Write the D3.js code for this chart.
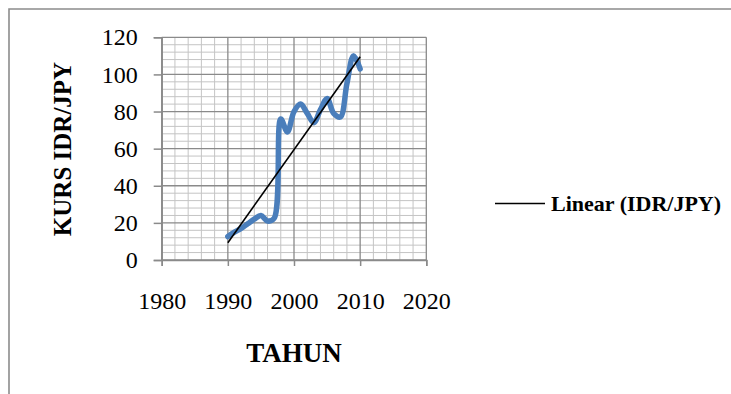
<!DOCTYPE html>
<html>
<head>
<meta charset="utf-8">
<script src="https://cdn.jsdelivr.net/npm/d3@7/dist/d3.min.js"></script>
<style>
  html, body { margin: 0; padding: 0; background: #fff; }
  svg { display: block; }
  text { font-family: "Liberation Serif", "Times New Roman", serif; fill: #000; }
</style>
</head>
<body>
<svg id="chart" width="731" height="394"></svg>
<script>
// IDR/JPY exchange rate by year
const years = [1990, 1991, 1992, 1993, 1994, 1995, 1996, 1997, 1998, 1999, 2000,
               2001, 2002, 2003, 2004, 2005, 2006, 2007, 2008, 2009, 2010];
const kurs  = [12.6, 15, 17, 19.5, 22, 24, 21, 22.5, 76, 69, 80,
               84, 79, 74, 81, 87, 79, 77, 95, 110, 103];

const xTicks = [1980, 1990, 2000, 2010, 2020];
const yTicks = [0, 20, 40, 60, 80, 100, 120];

const xTitle = "TAHUN";
const yTitle = "KURS IDR/JPY";
const legendLabel = "Linear (IDR/JPY)";

const svg = d3.select("#chart");

// outer chart frame (continues past the right and bottom edges)
svg.append("path")
  .attr("d", "M9,400 V9 H740")
  .attr("fill", "none")
  .attr("stroke", "#8c8c8c")
  .attr("stroke-width", 1.6);

const x = d3.scaleLinear().domain([1980, 2020]).range([161.7, 426.3]);
const y = d3.scaleLinear().domain([0, 120]).range([260, 37.3]);

const grid = svg.append("g");

// minor grid: every 2 years, every 4 units
const xMinor = d3.range(1980, 2020.01, 2).filter(v => (v - 1980) % 10 !== 0);
const yMinor = d3.range(0, 120.01, 4).filter(v => v % 20 !== 0);
grid.selectAll(".xminor").data(xMinor).join("line")
  .attr("x1", d => x(d)).attr("x2", d => x(d))
  .attr("y1", y(0)).attr("y2", y(120))
  .attr("stroke", "#c4c4c4").attr("stroke-width", 1);
grid.selectAll(".yminor").data(yMinor).join("line")
  .attr("x1", x(1980)).attr("x2", x(2020))
  .attr("y1", d => y(d)).attr("y2", d => y(d))
  .attr("stroke", "#c4c4c4").attr("stroke-width", 1);

// major grid
grid.selectAll(".xmajor").data(xTicks).join("line")
  .attr("x1", d => x(d)).attr("x2", d => x(d))
  .attr("y1", y(0)).attr("y2", y(120))
  .attr("stroke", "#8a8a8a").attr("stroke-width", 1.3);
grid.selectAll(".ymajor").data(yTicks).join("line")
  .attr("x1", x(1980)).attr("x2", x(2020))
  .attr("y1", d => y(d)).attr("y2", d => y(d))
  .attr("stroke", "#8a8a8a").attr("stroke-width", 1.3);

// axes
const yAxis = d3.axisLeft(y).tickValues(yTicks).tickSize(8).tickPadding(16).tickFormat(d3.format("d"));
const xAxis = d3.axisBottom(x).tickValues(xTicks).tickSize(6).tickPadding(14).tickFormat(d3.format("d"));

const gy = svg.append("g").attr("transform", `translate(${x(1980)},0)`).call(yAxis);
const gx = svg.append("g").attr("transform", `translate(0,${y(0)})`).call(xAxis);

[gx, gy].forEach(g => {
  g.attr("font-family", null).attr("font-size", null);
  g.select(".domain").attr("stroke", "#8a8a8a").attr("stroke-width", 1.5);
  g.selectAll(".tick line").attr("stroke", "#8a8a8a").attr("stroke-width", 1.5);
  g.selectAll(".tick text")
    .style("font-family", "'Liberation Serif', 'Times New Roman', serif")
    .style("font-size", "24px")
    .attr("fill", "#000");
});
gx.selectAll(".tick text").attr("y", 49).attr("dy", null);

const pts = years.map((yr, i) => [yr, kurs[i]]);

// data series, smoothed
svg.append("path")
  .datum(pts)
  .attr("fill", "none")
  .attr("stroke", "#4a7ebb")
  .attr("stroke-width", 5.5)
  .attr("stroke-linejoin", "round")
  .attr("stroke-linecap", "round")
  .attr("d", d3.line().x(d => x(d[0])).y(d => y(d[1])).curve(d3.curveCatmullRom.alpha(0.5)));

// least-squares trend line
const mx = d3.mean(years), my = d3.mean(kurs);
const slope = d3.sum(pts, d => (d[0] - mx) * (d[1] - my)) / d3.sum(years, v => (v - mx) ** 2);
const icpt = my - slope * mx;
const x0 = d3.min(years), x1 = d3.max(years);
svg.append("line")
  .attr("x1", x(x0)).attr("y1", y(icpt + slope * x0))
  .attr("x2", x(x1)).attr("y2", y(icpt + slope * x1))
  .attr("stroke", "#000").attr("stroke-width", 1.6);

// axis titles
svg.append("text")
  .attr("x", 294).attr("y", 362)
  .attr("text-anchor", "middle")
  .style("font-size", "27px").attr("font-weight", "bold")
  .text(xTitle);

svg.append("text")
  .attr("transform", "translate(71,149) rotate(-90)")
  .attr("text-anchor", "middle")
  .style("font-size", "25px").attr("font-weight", "bold")
  .text(yTitle);

// legend
svg.append("line")
  .attr("x1", 495).attr("x2", 545).attr("y1", 203.5).attr("y2", 203.5)
  .attr("stroke", "#000").attr("stroke-width", 1.6);
svg.append("text")
  .attr("x", 551).attr("y", 210.5)
  .style("font-size", "22px").attr("font-weight", "bold")
  .text(legendLabel);
</script>
</body>
</html>
